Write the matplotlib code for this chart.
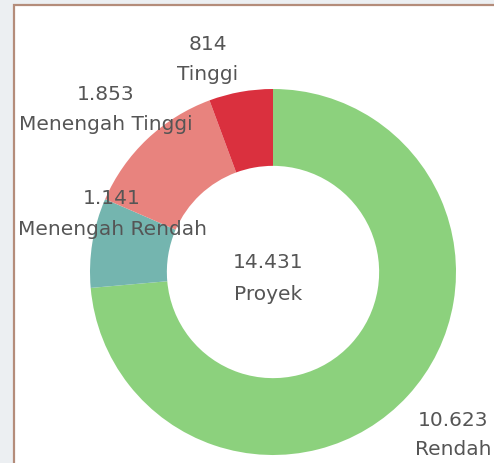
import matplotlib.pyplot as plt
from matplotlib.patches import Rectangle

# Data
categories = ["Rendah", "Menengah Rendah", "Menengah Tinggi", "Tinggi"]
values = [10623, 1141, 1853, 814]
value_labels = ["10.623", "1.141", "1.853", "814"]
colors = ["#8cd17d", "#74b5af", "#e8837e", "#da303e"]
total_label = "14.431"
total_text = "Proyek"

fig = plt.figure(figsize=(4.94, 4.64), dpi=100)
fig.patch.set_facecolor("#eceff2")
ax = fig.add_axes([0, 0, 1, 1])

# white panel with brown border (top/left)
ax.add_patch(Rectangle((14, -10), 500, 464 - 6 + 10, facecolor="white",
                       edgecolor="#b48c7a", linewidth=1.6, zorder=0))

cx, cy = 273, 464 - 273
ax.pie(values, colors=colors, startangle=90, counterclock=False,
       center=(cx, cy), radius=183, frame=True,
       wedgeprops=dict(width=183 * 0.42, linewidth=0))
ax.set_xlim(0, 494)
ax.set_ylim(0, 464)
ax.set_aspect("equal")
ax.axis("off")

txt = dict(color="#555555", fontsize=14.5, ha="center", va="center")
# label positions (pixel coords from top)
pos = {
    "Tinggi": (208, 44, 75),
    "Menengah Tinggi": (106, 95, 125),
    "Menengah Rendah": (112, 199, 230),
    "Rendah": (453, 421, 450),
}
for cat, val in zip(categories, value_labels):
    x, y1, y2 = pos[cat]
    ax.text(x, 464 - y1, val, **txt)
    ax.text(x, 464 - y2, cat, **txt)

ax.text(268, 464 - 263, total_label, **txt)
ax.text(268, 464 - 295, total_text, **txt)

fig.savefig("out.png", dpi=100, facecolor=fig.get_facecolor())
